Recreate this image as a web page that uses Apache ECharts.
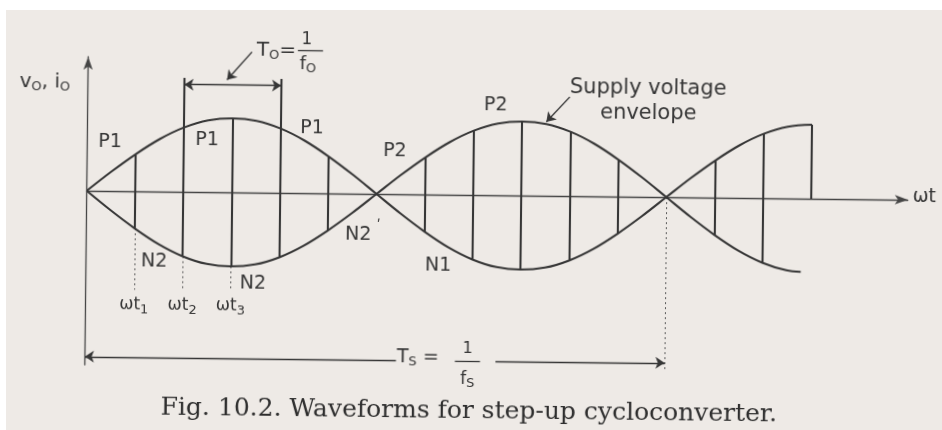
<!DOCTYPE html>
<html>
<head>
<meta charset="utf-8">
<script src="https://cdn.jsdelivr.net/npm/echarts@6/dist/echarts.min.js"></script>
<style>
  html, body { margin: 0; padding: 0; background: #ffffff; }
  #paper { position: absolute; left: 6px; top: 10px; width: 936px; height: 420px; background: #eeeae6; }
  #chart { position: absolute; left: 0; top: 0; width: 942px; height: 430px;
           transform: rotate(0.63deg); transform-origin: 471px 215px; }
</style>
</head>
<body>
<div id="paper"></div>
<div id="chart"></div>
<script>
// Time axis in units of one output switching interval (30° of the supply wave).
const wtSteps = [0, 0.5, 1, 1.5, 2, 2.5, 3, 3.5, 4, 4.5, 5, 5.5, 6, 6.5, 7, 7.5,
                 8, 8.5, 9, 9.5, 10, 10.5, 11, 11.5, 12, 12.5, 13, 13.5, 14, 14.5, 15];
// Supply voltage envelope, phase P (positive group in the first half cycle)
const phaseP = [0, 0.26, 0.5, 0.71, 0.87, 0.97, 1, 0.97, 0.87, 0.71, 0.5, 0.26,
                0, -0.26, -0.5, -0.71, -0.87, -0.97, -1, -0.97, -0.87, -0.71, -0.5, -0.26,
                0, 0.26, 0.5, 0.71, 0.87, 0.97, 1];
// Supply voltage envelope, phase N (mirror group), sampled up to wt = 14.5
const phaseN = [0, -0.26, -0.5, -0.71, -0.87, -0.97, -1, -0.97, -0.87, -0.71, -0.5, -0.26,
                0, 0.26, 0.5, 0.71, 0.87, 0.97, 1, 0.97, 0.87, 0.71, 0.5, 0.26,
                0, -0.26, -0.5, -0.71, -0.87, -0.97];
const phaseNTail = [14.8, -0.99];
// Instants where the output jumps between the two envelopes
const switchTimes = [1, 2, 3, 4, 5, 7, 8, 9, 10, 11, 13, 14];
const finalSwitch = 15;
// Marked instants below the axis
const markedTimes = [1, 2, 3];
const markedNames = ['1', '2', '3'];
// One output period T_O and one supply period T_S
const outputPeriod = [2, 4];
const supplyPeriod = [0, 12];

const INK = '#363636';
const SANS = '"DejaVu Sans", sans-serif';
const idx = t => Math.round(t * 2);

const chart = echarts.init(document.getElementById('chart'), null, { renderer: 'canvas' });

const envP = wtSteps.map((t, i) => [t, phaseP[i]]);
const envN = phaseN.map((v, i) => [wtSteps[i], v]).concat([phaseNTail]);

const verticals = switchTimes.map(t => {
  const a = phaseP[idx(t)], b = phaseN[idx(t)];
  return { coords: [[t, Math.max(a, b)], [t, Math.min(a, b)]] };
});
verticals.push({ coords: [[finalSwitch, phaseP[idx(finalSwitch)]], [finalSwitch, 0]] });
// extension lines for the T_O dimension
outputPeriod.forEach(t => verticals.push({ coords: [[t, Math.max(phaseP[idx(t)], phaseN[idx(t)])], [t, 1.54]] }));

const dotted = markedTimes.map(t => ({ coords: [[t, Math.min(phaseP[idx(t)], phaseN[idx(t)])], [t, -1.33]] }));
dotted.push({ coords: [[supplyPeriod[1], 0], [supplyPeriod[1], -2.36]] });

const dimY = -2.24;
const lineBase = {
  type: 'lines', coordinateSystem: 'cartesian2d', polyline: false, silent: true,
  clip: false, symbolSize: 10, effect: { show: false }
};

chart.setOption({
  animation: false,
  backgroundColor: 'transparent',
  title: {
    text: 'Fig. 10.2. Waveforms for step-up cycloconverter.',
    left: 'center', top: 394,
    textStyle: { fontFamily: '"DejaVu Serif", serif', fontSize: 25, fontWeight: 'normal', color: '#2e2e2e' }
  },
  grid: { left: 86.5, top: 61, width: 821.1, height: 308 },
  xAxis: {
    type: 'value', min: 0, max: 17,
    axisLine: { show: true, onZero: true, symbol: ['none', 'arrow'], symbolSize: [7, 13],
                lineStyle: { color: '#454545', width: 1.3 } },
    axisTick: { show: false }, axisLabel: { show: false }, splitLine: { show: false }
  },
  yAxis: {
    type: 'value', min: -2.351, max: 1.811,
    axisLine: { show: true, symbol: ['none', 'arrow'], symbolSize: [7, 13],
                lineStyle: { color: '#454545', width: 1.3 } },
    axisTick: { show: false }, axisLabel: { show: false }, splitLine: { show: false }
  },
  series: [
    { type: 'line', name: 'phase P', data: envP, smooth: 0.35, symbol: 'none', clip: false, silent: true,
      lineStyle: { color: INK, width: 2.1 } },
    { type: 'line', name: 'phase N', data: envN, smooth: 0.35, symbol: 'none', clip: false, silent: true,
      lineStyle: { color: INK, width: 2.1 } },
    Object.assign({}, lineBase, { name: 'output switching', symbol: ['none', 'none'],
      lineStyle: { color: INK, width: 2.1, opacity: 1 }, data: verticals }),
    Object.assign({}, lineBase, { name: 'projections', symbol: ['none', 'none'],
      lineStyle: { color: '#5a5a5a', width: 1, type: [2, 3], opacity: 1 }, data: dotted }),
    Object.assign({}, lineBase, { name: 'T_O span', symbol: ['arrow', 'arrow'], symbolSize: 9,
      lineStyle: { color: INK, width: 1.4, opacity: 1 },
      data: [{ coords: [[outputPeriod[0], 1.45], [outputPeriod[1], 1.45]] }] }),
    Object.assign({}, lineBase, { name: 'T_S left', symbol: ['arrow', 'none'], symbolSize: 9,
      lineStyle: { color: INK, width: 1.4, opacity: 1 },
      data: [{ coords: [[supplyPeriod[0], dimY], [6.44, dimY]] }] }),
    Object.assign({}, lineBase, { name: 'pointers', symbol: ['none', 'arrow'], symbolSize: 9,
      lineStyle: { color: INK, width: 1.4, opacity: 1 },
      data: [
        { coords: [[8.5, dimY], [supplyPeriod[1], dimY]] },
        { coords: [[3.39, 1.90], [2.88, 1.52]] },
        { coords: [[9.98, 1.34], [9.5, 1.0]] }
      ] }),
    Object.assign({}, lineBase, { name: 'fraction bars', symbol: ['none', 'none'],
      lineStyle: { color: INK, width: 1.3, opacity: 1 },
      data: [
        { coords: [[4.34, 1.934], [4.86, 1.934]] },
        { coords: [[7.66, -2.25], [8.18, -2.25]] }
      ] })
  ]
});

// Text annotations anchored in data coordinates
const subStyle = { fontSize: 13, fontFamily: SANS, fill: INK, padding: [9, 0, 0, 0] };
function label(text, x, y, size, align, extra) {
  const p = chart.convertToPixel({ gridIndex: 0 }, [x, y]);
  return {
    type: 'text', x: p[0], y: p[1], silent: true,
    style: Object.assign({
      text: text, fontSize: size, fontFamily: SANS, fill: INK,
      align: align || 'center', verticalAlign: 'middle',
      rich: { s: subStyle }
    }, extra || {})
  };
}

const groupLabels = [
  ['P1', 0.47, 0.66], ['P1', 2.48, 0.70], ['P1', 4.65, 0.88],
  ['N2', 1.41, -0.95], ['N2', 3.46, -1.235], ['N2', 5.63, -0.56],
  ['P2', 6.37, 0.58], ['P2', 8.45, 1.22], ['N1', 7.29, -0.965]
];

const texts = groupLabels.map(g => label(g[0], g[1], g[2], 19));
texts.push(label('ʹ', 6.05, -0.44, 14));
texts.push(label('v{s|O}, i{s|O}', -0.89, 1.46, 20));
texts.push(label('T{s|O}=', 3.49, 1.92, 20, 'left'));
texts.push(label('1', 4.52, 2.07, 17));
texts.push(label('f{s|O}', 4.55, 1.74, 18));
texts.push(label('T{s|S} =', 6.46, -2.2, 19, 'left'));
texts.push(label('1', 7.92, -2.08, 16));
texts.push(label('f{s|S}', 7.92, -2.49, 17));
texts.push(label('Supply voltage', 9.98, 1.46, 21, 'left'));
texts.push(label('envelope', 10.61, 1.13, 21, 'left'));
texts.push(label('ωt', 17.1, 0.04, 19, 'left'));
markedTimes.forEach((t, i) => texts.push(label('ωt{s|' + markedNames[i] + '}', t, -1.54, 17)));

chart.setOption({ graphic: texts });
</script>
</body>
</html>
